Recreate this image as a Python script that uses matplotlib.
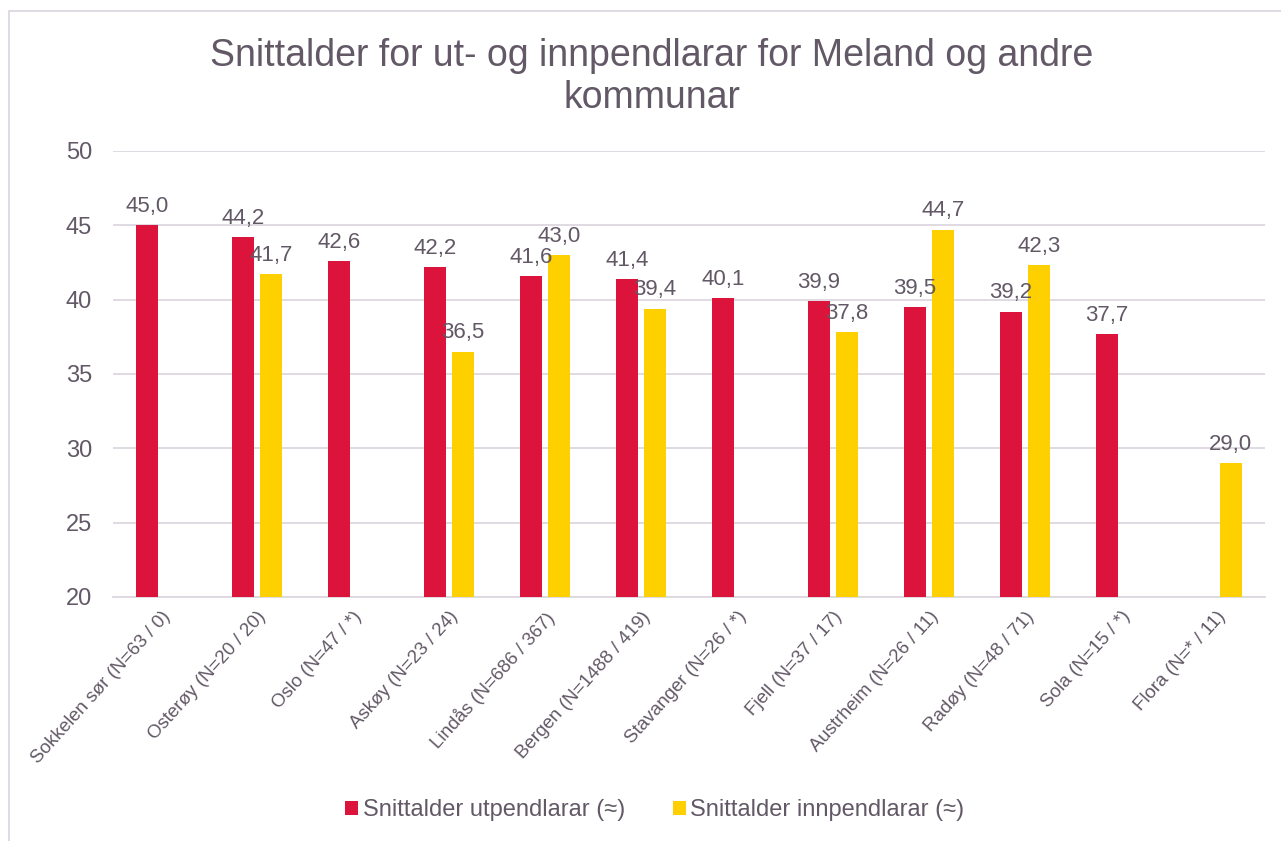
import numpy as np
import matplotlib
matplotlib.use("Agg")
import matplotlib.pyplot as plt
from matplotlib.patches import Rectangle

plt.rcParams["font.family"] = ["Liberation Sans", "DejaVu Sans"]

categories = ["Sokkelen sør (N=63 / 0)", "Osterøy (N=20 / 20)", "Oslo (N=47 / *)",
              "Askøy (N=23 / 24)", "Lindås (N=686 / 367)", "Bergen (N=1488 / 419)",
              "Stavanger (N=26 / *)", "Fjell (N=37 / 17)", "Austrheim (N=26 / 11)",
              "Radøy (N=48 / 71)", "Sola (N=15 / *)", "Flora (N=* / 11)"]
ut_values = [45.0, 44.2, 42.6, 42.2, 41.6, 41.4, 40.1, 39.9, 39.5, 39.2, 37.7, None]
inn_values = [None, 41.7, None, 36.5, 43.0, 39.4, None, 37.8, 44.7, 42.3, None, 29.0]
series_names = ["Snittalder utpendlarar (≈)", "Snittalder innpendlarar (≈)"]

TXT = "#625866"
RED = "#DC143C"
YEL = "#FFD000"
GRID = "#DDD7DF"

fig = plt.figure(figsize=(12.81, 8.41), dpi=100)
ax = fig.add_axes([113 / 1281, 1 - 597 / 841, (1265 - 113) / 1281, (597 - 151) / 841])

x = np.arange(len(categories))
w = 0.225
off = 0.145
for vals, dx, col, name in [(ut_values, -off, RED, series_names[0]),
                            (inn_values, off, YEL, series_names[1])]:
    xs = [xi + dx for xi, v in zip(x, vals) if v is not None]
    ys = [v for v in vals if v is not None]
    ax.bar(xs, [v - 20 for v in ys], bottom=20, width=w, color=col, label=name, zorder=3)
    for xi, v in zip(xs, ys):
        ax.annotate(f"{v:.1f}".replace(".", ","), (xi, v), xytext=(0, 6),
                    textcoords="offset points", ha="center", va="bottom",
                    fontsize=16, color=TXT, zorder=4)

ax.set_xlim(-0.5, len(categories) - 0.5)
ax.set_ylim(20, 50)
ax.set_yticks(range(20, 51, 5))
ax.yaxis.grid(True, color=GRID, lw=1.3, zorder=0)
for s in ["top", "right", "left"]:
    ax.spines[s].set_visible(False)
ax.spines["bottom"].set_color(GRID)
ax.spines["bottom"].set_linewidth(1.3)
ax.tick_params(axis="y", length=0, pad=15, labelsize=17, labelcolor=TXT)
ax.tick_params(axis="x", length=0, pad=8, labelsize=13.5, labelcolor=TXT)
ax.set_xticks(x)
ax.set_xticklabels(categories, rotation=48, ha="right", rotation_mode="anchor")

fig.text(652 / 1281, 1 - 77 / 841, "Snittalder for ut- og innpendlarar for Meland og andre\nkommunar",
         ha="center", va="center", fontsize=27, color=TXT, linespacing=1.2)

leg = fig.legend(loc="center", bbox_to_anchor=(655 / 1281, 1 - 810 / 841), ncol=2, frameon=False,
                 fontsize=17, labelcolor=TXT, handlelength=0.55, handleheight=0.55,
                 handletextpad=0.2, columnspacing=2.0)

fig.patches.append(Rectangle((9 / 1281, -0.1), 1.2, 1.1 - 11 / 841, transform=fig.transFigure,
                             fill=False, edgecolor=GRID, lw=1.3))

fig.savefig("out.png", dpi=100)
